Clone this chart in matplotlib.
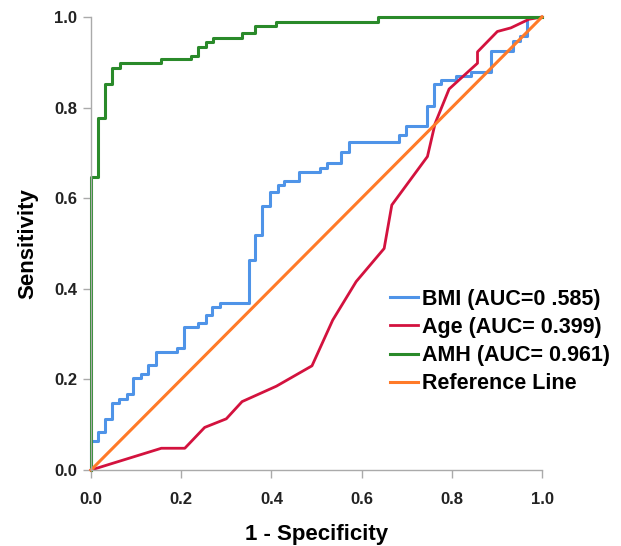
import matplotlib
matplotlib.use("Agg")
import matplotlib.pyplot as plt

plt.rcParams['font.family'] = ['Liberation Sans', 'DejaVu Sans']
plt.rcParams['font.weight'] = 'bold'

# ROC points (1 - specificity, sensitivity)
bmi_fpr = [0, 0, 0.016, 0.031, 0.047, 0.063, 0.079, 0.094, 0.110, 0.127, 0.144,
           0.190, 0.206, 0.237, 0.254, 0.269, 0.285, 0.350, 0.364, 0.380, 0.397,
           0.414, 0.429, 0.461, 0.508, 0.524, 0.555, 0.571, 0.682, 0.698, 0.746,
           0.761, 0.777, 0.809, 0.842, 0.888, 0.936, 0.951, 0.967, 1.0]
bmi_tpr = [0, 0.065, 0.083, 0.113, 0.149, 0.157, 0.167, 0.204, 0.213, 0.232, 0.260,
           0.269, 0.315, 0.324, 0.342, 0.360, 0.369, 0.464, 0.519, 0.583, 0.613,
           0.629, 0.639, 0.657, 0.666, 0.677, 0.703, 0.723, 0.740, 0.760, 0.804,
           0.852, 0.861, 0.870, 0.879, 0.926, 0.946, 0.957, 1.0, 1.0]

age_fpr = [0, 0.156, 0.208, 0.252, 0.300, 0.335, 0.411, 0.490, 0.536, 0.588, 0.650,
           0.667, 0.746, 0.763, 0.794, 0.857, 0.857, 0.901, 0.931, 0.971, 1.0]
age_tpr = [0, 0.048, 0.048, 0.094, 0.113, 0.151, 0.185, 0.230, 0.331, 0.416, 0.489,
           0.585, 0.692, 0.765, 0.841, 0.898, 0.923, 0.968, 0.976, 0.995, 1.0]

amh_fpr = [0, 0, 0.015, 0.031, 0.047, 0.064, 0.156, 0.221, 0.237, 0.254, 0.271,
           0.335, 0.364, 0.411, 0.636, 1.0]
amh_tpr = [0, 0.647, 0.778, 0.852, 0.888, 0.898, 0.907, 0.915, 0.934, 0.944, 0.953,
           0.964, 0.981, 0.990, 1.0, 1.0]

ref_x = [0, 1]
ref_y = [0, 1]

labels = ['BMI (AUC=0 .585)', 'Age (AUC= 0.399)', 'AMH (AUC= 0.961)', 'Reference Line']
colors = ['#4f94e8', '#d3123e', '#2a8a2a', '#ff7a28']

fig = plt.figure(figsize=(6.21, 5.46), dpi=100)
ax = fig.add_axes([91 / 621, 1 - 470 / 546, 451 / 621, 453 / 546])

ax.plot(bmi_fpr, bmi_tpr, drawstyle='steps-post', color=colors[0], lw=2.2,
        label=labels[0], clip_on=False)
ax.plot(age_fpr, age_tpr, color=colors[1], lw=2.0, label=labels[1], clip_on=False)
ax.plot(amh_fpr, amh_tpr, drawstyle='steps-post', color=colors[2], lw=2.2,
        label=labels[2], clip_on=False)
ax.plot(ref_x, ref_y, color=colors[3], lw=2.2, label=labels[3], clip_on=False)

ax.set_xlim(0, 1)
ax.set_ylim(0, 1)
ticks = [0.0, 0.2, 0.4, 0.6, 0.8, 1.0]
ax.set_xticks(ticks)
ax.set_yticks(ticks)
ax.set_xticklabels([f'{t:.1f}' for t in ticks])
ax.set_yticklabels([f'{t:.1f}' for t in ticks])

for side in ['top', 'right']:
    ax.spines[side].set_visible(False)
for side in ['left', 'bottom']:
    ax.spines[side].set_color('#aaaaaa')
    ax.spines[side].set_linewidth(1)
ax.tick_params(direction='out', length=6, width=1, color='#aaaaaa',
               labelsize=12, labelcolor='#222222')
ax.tick_params(axis='x', pad=10)
ax.tick_params(axis='y', pad=4)
for lab in ax.get_xticklabels() + ax.get_yticklabels():
    lab.set_fontweight('bold')

ax.set_xlabel('1 - Specificity', fontsize=16, fontweight='bold', labelpad=12)
ax.set_ylabel('Sensitivity', fontsize=16, fontweight='bold', labelpad=11)

leg = fig.legend(loc='center left', bbox_to_anchor=(390 / 621, 1 - 341.5 / 546),
                 frameon=False, fontsize=15.5, handlelength=1.3, handletextpad=0.2,
                 labelspacing=0.33, borderpad=0, borderaxespad=0)
for t in leg.get_texts():
    t.set_fontweight('bold')

fig.savefig('out.png', dpi=100)
